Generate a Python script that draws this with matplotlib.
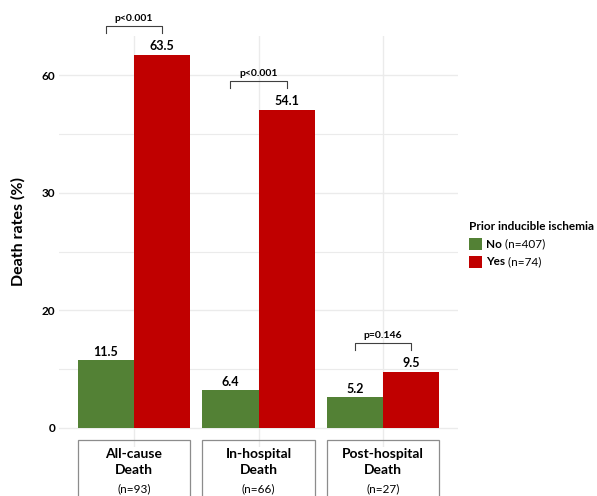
import matplotlib
matplotlib.use("Agg")
import matplotlib.pyplot as plt
from matplotlib.patches import Rectangle
import matplotlib.transforms as mtransforms
import numpy as np

plt.rcParams['font.family'] = ['Lato', 'DejaVu Sans']

categories = ['All-cause\nDeath', 'In-hospital\nDeath', 'Post-hospital\nDeath']
n_labels = ['(n=93)', '(n=66)', '(n=27)']
no_vals = [11.5, 6.4, 5.2]
yes_vals = [63.5, 54.1, 9.5]
p_labels = ['p<0.001', 'p<0.001', 'p=0.146']
ytick_pos = [0, 20, 40, 60]
ytick_labels = ['0', '20', '30', '60']
legend_title = 'Prior inducible ischemia'
legend_names = ['No', 'Yes']
legend_ns = [' (n=407)', ' (n=74)']

GREEN = '#538135'
RED = '#c00000'
W, H = 597, 496

fig = plt.figure(figsize=(W / 100, H / 100), dpi=100)
ax = fig.add_axes([59.3 / W, 1 - 446.8 / H, 398.4 / W, 410.7 / H])

x = np.arange(1, len(categories) + 1)
bw = 0.45
ax.bar(x - bw / 2, no_vals, width=bw, color=GREEN, zorder=2)
ax.bar(x + bw / 2, yes_vals, width=bw, color=RED, zorder=2)

for xi, v in zip(x - bw / 2, no_vals):
    ax.annotate(f'{v:.1f}', (xi, v), xytext=(0, 2), textcoords='offset points',
                ha='center', va='bottom', fontsize=9, fontweight='bold')
for xi, v in zip(x + bw / 2, yes_vals):
    ax.annotate(f'{v:.1f}', (xi, v), xytext=(0, 2), textcoords='offset points',
                ha='center', va='bottom', fontsize=9, fontweight='bold')

# significance brackets
for xi, a, b, p in zip(x, no_vals, yes_vals, p_labels):
    top = max(a, b) + 5.0
    x0, x1 = xi - bw / 2, xi + bw / 2
    ax.plot([x0, x0, x1, x1], [top - 1.2, top, top, top - 1.2], color='#404040',
            lw=0.8, clip_on=False, zorder=3)
    ax.annotate(p, (xi, top), xytext=(0, 2), textcoords='offset points',
                ha='center', va='bottom', fontsize=7.5, fontweight='bold',
                annotation_clip=False)

ax.set_xlim(0.4, 3.6)
ax.set_ylim(-3.2, 66.7)
ax.set_yticks(ytick_pos)
ax.set_yticklabels(ytick_labels, fontweight='bold', fontsize=8.5)
ax.set_yticks([10, 30, 50], minor=True)
ax.set_xticks(x)
ax.set_xticklabels([])
ax.tick_params(axis='both', which='both', length=0, pad=3)
ax.grid(True, which='major', color='#ebebeb', lw=1.0, zorder=0)
ax.grid(True, which='minor', axis='y', color='#ebebeb', lw=0.8, zorder=0)
ax.set_axisbelow(True)
for s in ax.spines.values():
    s.set_visible(False)

# category boxes under the axis
trans = mtransforms.blended_transform_factory(ax.transData, ax.transAxes)
def ax_y(py):
    return (446.8 - py) / 410.7

for xi, cat, n in zip(x, categories, n_labels):
    ax.add_patch(Rectangle((xi - bw, ax_y(560)), 2 * bw, ax_y(440) - ax_y(560),
                           transform=trans, fill=False, edgecolor='#8c8c8c',
                           lw=0.9, clip_on=False))
    ax.text(xi, ax_y(462), cat, transform=trans, ha='center', va='center',
            fontsize=10, fontweight='bold', linespacing=1.45)
    ax.text(xi, ax_y(489), n, transform=trans, ha='center', va='center',
            fontsize=8.5)

fig.text(18 / W, 1 - 231 / H, 'Death rates (%)', rotation=90, ha='center',
         va='center', fontsize=11.5, fontweight='bold')

# legend
fig.text(469 / W, 1 - 226.7 / H, legend_title, ha='left', va='center',
         fontsize=8.5, fontweight='bold')
for i, (name, n, c) in enumerate(zip(legend_names, legend_ns, [GREEN, RED])):
    yc = 244 + i * 17.5
    fig.patches.append(Rectangle((469 / W, 1 - (yc + 6) / H), 12.5 / W, 12 / H,
                                 transform=fig.transFigure, facecolor=c,
                                 edgecolor='none'))
    t = fig.text(486 / W, 1 - yc / H, name, ha='left', va='center',
                 fontsize=8.5, fontweight='bold')
    ax.annotate(n, xy=(1, 0.5), xycoords=t, ha='left', va='center', fontsize=8.5,
                annotation_clip=False)

fig.savefig('out.png', dpi=100)
